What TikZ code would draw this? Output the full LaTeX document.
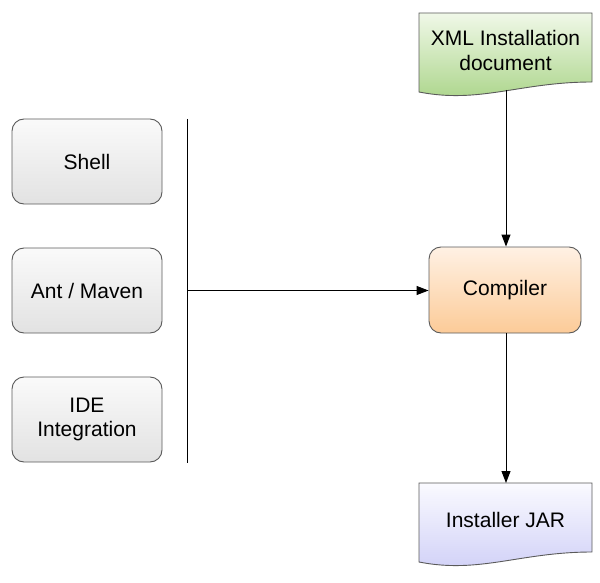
\documentclass[tikz,border=0pt]{standalone}
\usepackage{fontspec}
\setmainfont{Liberation Sans}
\usetikzlibrary{arrows.meta}
\definecolor{boxline}{HTML}{5A5A5A}
\definecolor{grayTop}{HTML}{FAFAFA}
\definecolor{grayBot}{HTML}{E2E2E2}
\definecolor{orTop}{HTML}{FFF1E4}
\definecolor{orBot}{HTML}{FCCB98}
\definecolor{grTop}{HTML}{F0F8E8}
\definecolor{grBot}{HTML}{A9D487}
\definecolor{blTop}{HTML}{FAFAFF}
\definecolor{blBot}{HTML}{CFCFF7}
\begin{document}
\begin{tikzpicture}[x=1pt,y=1pt,
  txt/.style={font=\fontsize{21}{24.5}\selectfont, align=center, text=black},
  roundbox/.style={txt, draw=boxline, line width=0.9pt, rounded corners=12pt,
    minimum width=150pt, minimum height=85pt, inner sep=0pt},
  grayfill/.style={top color=grayTop, bottom color=grayBot},
  docarea/.style={txt, minimum width=173pt, inner sep=0pt},
  conn/.style={line width=1pt, draw=black},
  arr/.style={conn, -{Triangle[length=12pt,width=9pt]}}
]
\useasboundingbox (0,0) rectangle (600,-583);

% left tool boxes
\node[roundbox, grayfill] (shell) at (87,-161.5) {Shell};
\node[roundbox, grayfill] (ant) at (87,-290.5) {Ant / Maven};
\node[roundbox, grayfill] (ide) at (87,-419.5) {IDE\\Integration};

% compiler
\node[roundbox, top color=orTop, bottom color=orBot, minimum width=152pt, minimum height=86pt] (comp) at (505,-290) {Compiler};

% XML document
\shade[top color=grTop, bottom color=grBot, draw=boxline, line width=0.9pt]
  (419,-13) -- (592,-13) -- (592,-82)
  .. controls (520,-82) and (480,-104) .. (419,-92) -- cycle;
\node[docarea, minimum height=77pt] (xml) at (505.5,-50.5) {XML Installation\\document};

% Installer JAR
\shade[top color=blTop, bottom color=blBot, draw=boxline, line width=0.9pt]
  (419,-483) -- (592,-483) -- (592,-552)
  .. controls (520,-552) and (480,-574) .. (419,-562) -- cycle;
\node[docarea, minimum height=60pt] (jar) at (505.5,-520) {Installer JAR};

% bar and connectors
\coordinate (bartop) at (187,-119);
\coordinate (barbot) at (187,-463);
\coordinate (barmid) at (187,-290.5);
\draw[conn] (bartop) -- (barbot);
\draw[arr] (barmid) -- (comp.west |- barmid);
\coordinate (xmlout) at (506,-90);
\draw[arr] (xmlout) -- (comp.north -| xmlout);
\draw[arr] (comp.south -| xmlout) -- (506,-483);
\end{tikzpicture}
\end{document}
